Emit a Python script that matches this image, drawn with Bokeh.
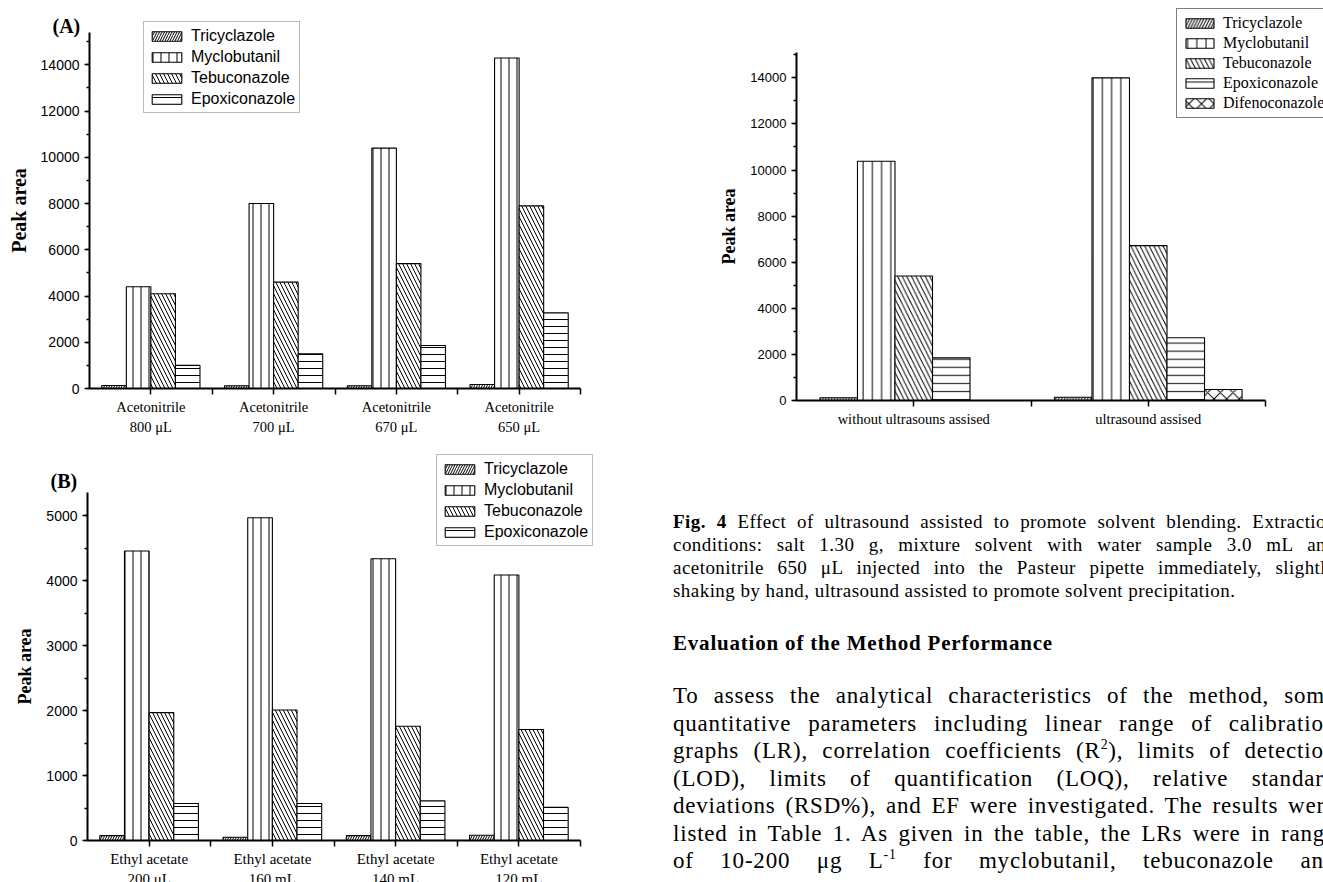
from bokeh.plotting import figure
from bokeh.models import (Range1d, FixedTicker, SingleIntervalTicker, Legend,
                          LegendItem, Label, ColumnDataSource, Div)
from bokeh.transform import dodge
from bokeh.layouts import row, column
from bokeh.embed import file_html
from bokeh.resources import INLINE

# ---------------- data ----------------
names4 = ["Tricyclazole", "Myclobutanil", "Tebuconazole", "Epoxiconazole"]
names5 = ["Tricyclazole", "Myclobutanil", "Tebuconazole", "Epoxiconazole", "Difenoconazole"]

a_labels = ["Acetonitrile\n800 μL", "Acetonitrile\n700 μL", "Acetonitrile\n670 μL", "Acetonitrile\n650 μL"]
a_tricyclazole = [130, 120, 120, 170]
a_myclobutanil = [4400, 8000, 10400, 14300]
a_tebuconazole = [4100, 4600, 5400, 7900]
a_epoxiconazole = [1000, 1500, 1860, 3270]

b_labels = ["Ethyl acetate\n200 μL", "Ethyl acetate\n160 mL", "Ethyl acetate\n140 mL", "Ethyl acetate\n120 mL"]
b_tricyclazole = [75, 50, 75, 80]
b_myclobutanil = [4460, 4970, 4340, 4090]
b_tebuconazole = [1970, 2010, 1760, 1710]
b_epoxiconazole = [570, 570, 610, 510]

c_labels = ["without ultrasouns assised", "ultrasound assised"]
c_tricyclazole = [120, 140]
c_myclobutanil = [10380, 14000]
c_tebuconazole = [5400, 6720]
c_epoxiconazole = [1850, 2720]
c_difenoconazole = [0, 480]

y_label = "Peak area"

caption_lines = [
    "<b>Fig. 4</b> Effect of ultrasound assisted to promote solvent blending. Extraction",
    "conditions: salt 1.30 g, mixture solvent with water sample 3.0 mL and",
    "acetonitrile 650 μL injected into the Pasteur pipette immediately, slightly",
    "shaking by hand, ultrasound assisted to promote solvent precipitation.",
]
heading = "Evaluation of the Method Performance"
para_lines = [
    "To assess the analytical characteristics of the method, some",
    "quantitative parameters including linear range of calibration",
    "graphs (LR), correlation coefficients (R<sup>2</sup>), limits of detection",
    "(LOD), limits of quantification (LOQ), relative standard",
    "deviations (RSD%), and EF were investigated. The results were",
    "listed in Table 1. As given in the table, the LRs were in range",
    "of 10-200 μg L<sup>-1</sup> for myclobutanil, tebuconazole and",
]

# ---------------- styles ----------------
SANS = "Liberation Sans"
SERIF = "Liberation Serif"
HATCH = {
    "Tricyclazole": ("/", 5),
    "Myclobutanil": ("|", 8),
    "Tebuconazole": ("\\", 8),
    "Epoxiconazole": ("-", 7),
    "Difenoconazole": ("x", 11),
}


def make_chart(labels, names, values, ymax, interval, fig_w, fig_h,
               ax_l, ax_r, ax_b, ax_t, bar_w, tick_size, cat_size, ylab_size,
               scale_mul=1.0):
    """Frame covers the whole canvas; axes are pinned at the data origin."""
    n = len(labels)
    xs = list(range(1, n + 1))
    data = {"x": xs}
    for nm, v in zip(names, values):
        data[nm] = v
    src = ColumnDataSource(data)
    gw = (ax_r - ax_l) / n
    x0 = 0.5 - ax_l / gw
    x1 = n + 0.5 + (fig_w - ax_r) / gw
    sy = (ax_b - ax_t) / ymax
    y0 = -(fig_h - ax_b) / sy
    y1 = ymax + ax_t / sy
    p = figure(width=fig_w, height=fig_h, x_range=Range1d(x0, x1),
               y_range=Range1d(y0, y1), output_backend="svg",
               toolbar_location=None, title=None,
               min_border_left=0, min_border_right=0,
               min_border_top=0, min_border_bottom=0)
    p.outline_line_color = None
    p.grid.visible = False
    p.background_fill_color = "white"
    p.border_fill_color = "white"
    k = len(names)
    rends = []
    for i, nm in enumerate(names):
        off = (i - (k - 1) / 2) * bar_w
        pat, sc = HATCH[nm]
        r = p.vbar(x=dodge("x", off, range=p.x_range), top=nm, width=bar_w,
                   source=src, fill_color="white", line_color="black",
                   line_width=1.1, hatch_pattern=pat,
                   hatch_scale=sc * scale_mul, hatch_color="black",
                   hatch_weight=1)
        rends.append(r)
    # y axis
    ya = p.yaxis[0]
    ya.fixed_location = 0.5
    ya.bounds = (0, ymax)
    ya.ticker = SingleIntervalTicker(interval=interval, num_minor_ticks=2)
    ya.axis_line_width = 2
    ya.major_tick_line_width = 1.5
    ya.minor_tick_line_width = 1.5
    ya.major_tick_in = 0
    ya.major_tick_out = 5
    ya.minor_tick_in = 0
    ya.minor_tick_out = 3
    ya.major_label_standoff = 5
    ya.major_label_text_font = SANS
    ya.major_label_text_font_size = tick_size
    ya.major_label_text_color = "black"
    ya.axis_label = y_label
    ya.axis_label_text_font = SERIF
    ya.axis_label_text_font_style = "bold"
    ya.axis_label_text_font_size = ylab_size
    ya.axis_label_text_color = "black"
    ya.axis_label_standoff = 8
    # x axis
    xa = p.xaxis[0]
    xa.fixed_location = 0
    xa.bounds = (0.5, n + 0.5)
    xa.ticker = FixedTicker(ticks=xs, minor_ticks=[x + 0.5 for x in xs])
    xa.major_label_overrides = {x: lab for x, lab in zip(xs, labels)}
    xa.axis_line_width = 2
    xa.major_tick_line_width = 1.5
    xa.minor_tick_line_width = 1.5
    xa.major_tick_in = 0
    xa.major_tick_out = 6
    xa.minor_tick_in = 0
    xa.minor_tick_out = 6
    xa.major_label_standoff = 4
    xa.major_label_text_font = SERIF
    xa.major_label_text_font_size = cat_size
    xa.major_label_text_color = "black"
    xa.major_label_text_line_height = 1.25
    return p, rends


def add_legend(p, rends, names, loc, font, size, gw, gh, lh, pad, border):
    items = [LegendItem(label=nm, renderers=[r]) for nm, r in zip(names, rends)]
    lg = Legend(items=items, location=loc, orientation="vertical",
                glyph_width=gw, glyph_height=gh, label_height=lh,
                label_standoff=6, spacing=2, padding=pad, margin=0,
                border_line_color=border, border_line_width=1,
                background_fill_color="white", background_fill_alpha=1,
                label_text_font=font, label_text_font_size=size,
                label_text_color="black")
    p.add_layout(lg)


def add_tag(p, text, x, y):
    p.add_layout(Label(x=x, y=y, x_units="screen", y_units="screen",
                       text=text, text_font=SERIF, text_font_style="bold",
                       text_font_size="20px", text_color="black",
                       text_baseline="middle", text_align="left"))


# ---------- chart A (page box 0..600 x 0..445) ----------
pA, rA = make_chart(a_labels, names4,
                    [a_tricyclazole, a_myclobutanil, a_tebuconazole, a_epoxiconazole],
                    15400, 2000, 600, 445, 89, 580, 388, 32, 0.2,
                    "14px", "14.5px", "20px")
add_legend(pA, rA, names4, (143, 445 - 113), SANS, "16px", 37, 12, 19, 4, "#777777")
add_tag(pA, "(A)", 52, 445 - 25)

# ---------- chart C (page box 600..1323 x 0..445) ----------
pC, rC = make_chart(c_labels, names5,
                    [c_tricyclazole, c_myclobutanil, c_tebuconazole, c_epoxiconazole,
                     c_difenoconazole],
                    15100, 2000, 723, 445, 196, 665, 400, 52, 0.16,
                    "13px", "14.5px", "18px", scale_mul=1.15)
add_legend(pC, rC, names5, (576, 445 - 118), SERIF, "16px", 35, 12, 18, 5, "black")

# ---------- chart B (page box 0..620 x 445..882) ----------
pB, rB = make_chart(b_labels, names4,
                    [b_tricyclazole, b_myclobutanil, b_tebuconazole, b_epoxiconazole],
                    5360, 1000, 620, 437, 87, 580, 395, 47, 0.2,
                    "14px", "15px", "18px")
add_legend(pB, rB, names4, (436, 437 - 101), SANS, "16px", 37, 12, 19, 4, "#777777")
add_tag(pB, "(B)", 50, 437 - 35)

# ---------- text block (page box 620..1323 x 445..882) ----------
LEFT = 48
def line_html(txt, top, size, lh, ls, align_last="justify", weight="normal"):
    return ('<div style="position:absolute;left:%dpx;top:%.2fpx;width:663px;'
            'height:%.2fpx;line-height:%.2fpx;font-size:%spx;letter-spacing:%spx;'
            'font-weight:%s;text-align:justify;text-align-last:%s;'
            'white-space:normal;">%s</div>' % (LEFT, top, lh, lh, size, ls, weight,
                                                 align_last, txt))

parts = []
for i, t in enumerate(caption_lines):
    last = "left" if i == len(caption_lines) - 1 else "justify"
    parts.append(line_html(t, 59.5 + 23 * i, 19, 23, 0.45, last))
parts.append(line_html(heading, 180, 21, 26, 0.8, "left", "bold"))
for i, t in enumerate(para_lines):
    parts.append(line_html(t, 232.25 + 27.5 * i, 23, 27.5, 0.8, "justify"))

html = ('<div style="position:relative;width:703px;height:437px;overflow:hidden;'
        'font-family:\'Liberation Serif\',serif;color:#000;">'
        + "".join(parts).replace("<sup>", '<sup style="font-size:0.6em;line-height:0;vertical-align:super;">')
        + '</div>')
text_div = Div(text=html, width=703, height=437, styles={"overflow": "hidden"})

layout = column(row(pA, pC), row(pB, text_div))

open("out.html", "w").write(file_html(layout, INLINE))
